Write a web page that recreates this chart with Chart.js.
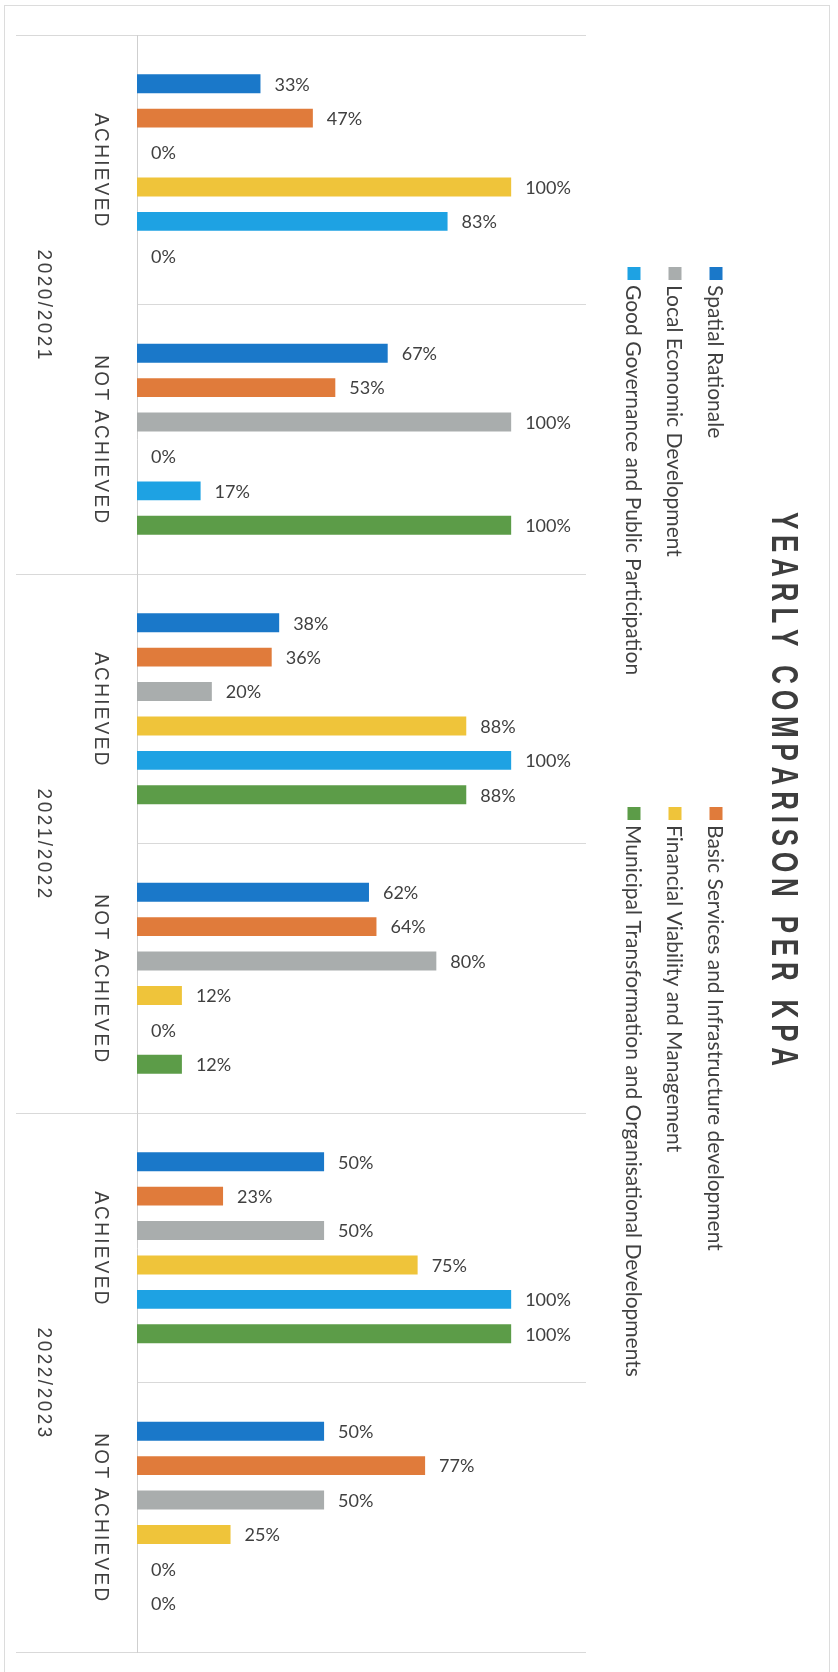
<!DOCTYPE html>
<html>
<head>
<meta charset="utf-8">
<title>Yearly Comparison per KPA</title>
<script src="https://cdn.jsdelivr.net/npm/chart.js@4.4.1/dist/chart.umd.min.js"></script>
<style>
  html, body { margin: 0; padding: 0; background: #fff; }
  #wrap { width: 838px; height: 1672px; }
</style>
</head>
<body>
<div id="wrap"><canvas id="kpaChart" width="838" height="1672"></canvas></div>
<script>
// data (page is rotated 90deg clockwise)
const years = ['2020/2021', '2021/2022', '2022/2023'];
const categories = ['ACHIEVED', 'NOT ACHIEVED', 'ACHIEVED', 'NOT ACHIEVED', 'ACHIEVED', 'NOT ACHIEVED'];
const kpaNames = [
  'Spatial Rationale',
  'Basic Services and Infrastructure development',
  'Local Economic Development',
  'Financial Viability and Management',
  'Good Governance and Public Participation',
  'Municipal Transformation and Organisational Developments'
];
const spatialRationale = [33, 67, 38, 62, 50, 50];
const basicServices = [47, 53, 36, 64, 23, 77];
const localEconomic = [0, 100, 20, 80, 50, 50];
const financialViability = [100, 0, 88, 12, 75, 25];
const goodGovernance = [83, 17, 100, 0, 100, 0];
const municipalTransformation = [0, 100, 88, 12, 100, 0];
const kpaColors = ['#1a78c9', '#e07b3b', '#a9adad', '#efc43a', '#1ea2e3', '#5c9c48'];

const seriesValues = [spatialRationale, basicServices, localEconomic,
  financialViability, goodGovernance, municipalTransformation];

const textGrey = '#404040';
const lineGrey = '#d9d9d9';

// draw text centred on the local origin with extra gap between letters
function spacedText(c, text, spacing) {
  const chars = [...text];
  const widths = chars.map(ch => c.measureText(ch).width);
  const total = widths.reduce((a, b) => a + b, 0) + spacing * (chars.length - 1);
  let x = -total / 2;
  c.textAlign = 'left';
  chars.forEach((ch, i) => {
    c.fillText(ch, x, 0);
    x += widths[i] + spacing;
  });
}

// rotate 90deg so text reads top-to-bottom like the scan
function rotated(c, x, y, stretch, fn) {
  c.save();
  c.translate(x, y);
  c.rotate(Math.PI / 2);
  c.scale(1, stretch);
  fn();
  c.restore();
}

const pagePlugin = {
  id: 'page',
  beforeDraw(chart) {
    const c = chart.ctx;
    c.save();
    c.fillStyle = '#fff';
    c.fillRect(0, 0, chart.width, chart.height);
    c.strokeStyle = '#dcdcdc';
    c.lineWidth = 1;
    c.strokeRect(4.5, 5.5, 825, 1680);
    c.restore();
  }
};

const categoryLabels = {
  id: 'categoryLabels',
  afterDraw(chart) {
    const c = chart.ctx;
    const ys = chart.scales.y;
    c.save();
    // year group separators reach into the label area
    c.strokeStyle = lineGrey;
    c.lineWidth = 1;
    for (let k = 0; k <= years.length; k++) {
      const y = Math.round(ys.getPixelForValue(2 * k - 0.5)) + 0.5;
      c.beginPath();
      c.moveTo(16, y);
      c.lineTo(chart.chartArea.left, y);
      c.stroke();
    }
    c.fillStyle = textGrey;
    c.textBaseline = 'middle';
    c.font = '19px "Liberation Sans", Arial, sans-serif';
    categories.forEach((lab, i) => {
      rotated(c, 101, ys.getPixelForValue(i), 1.1, () => spacedText(c, lab, 2.3));
    });
    years.forEach((yr, k) => {
      const y = (ys.getPixelForValue(2 * k) + ys.getPixelForValue(2 * k + 1)) / 2;
      rotated(c, 44, y, 1.1, () => spacedText(c, yr, 2.5));
    });
    c.restore();
  }
};

const valueLabels = {
  id: 'valueLabels',
  afterDatasetsDraw(chart) {
    const c = chart.ctx;
    c.save();
    c.font = '18px Lato, "Open Sans", sans-serif';
    c.fillStyle = textGrey;
    c.textAlign = 'left';
    c.textBaseline = 'middle';
    chart.data.datasets.forEach((ds, di) => {
      chart.getDatasetMeta(di).data.forEach((bar, i) => {
        c.fillText(ds.data[i] + '%', bar.x + 14, bar.y + 1);
      });
    });
    c.restore();
  }
};

const titleAndLegend = {
  id: 'titleAndLegend',
  afterDraw(chart) {
    const c = chart.ctx;
    c.save();
    c.fillStyle = '#3d3d3d';
    c.textBaseline = 'middle';
    c.font = 'bold 26px "Liberation Sans", Arial, sans-serif';
    const title = 'YEARLY COMPARISON PER KPA';
    const plain = c.measureText(title).width;
    const gap = (548 - plain) / (title.length - 1);
    rotated(c, 782, 789, 1.4, () => spacedText(c, title, gap));

    // legend: two columns, three rows
    const colStart = [285, 825];
    const rowX = [716, 675, 634];
    c.font = '21px Lato, "Open Sans", sans-serif';
    chart.data.datasets.forEach((ds, i) => {
      const col = i % 2;
      const row = Math.floor(i / 2);
      rotated(c, rowX[row], colStart[col], 1, () => {
        c.fillStyle = ds.backgroundColor;
        c.fillRect(-18, -6.5, 13, 13);
        c.fillStyle = textGrey;
        c.textAlign = 'left';
        c.fillText(ds.label, 0, 1);
      });
    });
    c.restore();
  }
};

new Chart(document.getElementById('kpaChart'), {
  type: 'bar',
  data: {
    labels: categories,
    datasets: kpaNames.map((name, i) => ({
      label: name,
      data: seriesValues[i],
      backgroundColor: kpaColors[i],
      barPercentage: 0.55,
      categoryPercentage: 0.766
    }))
  },
  options: {
    indexAxis: 'y',
    responsive: false,
    animation: false,
    layout: { padding: { left: 137, right: 252, top: 35, bottom: 20 } },
    plugins: {
      legend: { display: false },
      title: { display: false },
      tooltip: { enabled: false }
    },
    scales: {
      x: { display: false, min: 0, max: 120 },
      y: {
        offset: true,
        grid: { offset: true, color: lineGrey, drawTicks: false },
        border: { display: true, color: '#cfcfcf' },
        ticks: { display: false }
      }
    }
  },
  plugins: [pagePlugin, categoryLabels, valueLabels, titleAndLegend]
});
</script>
</body>
</html>
